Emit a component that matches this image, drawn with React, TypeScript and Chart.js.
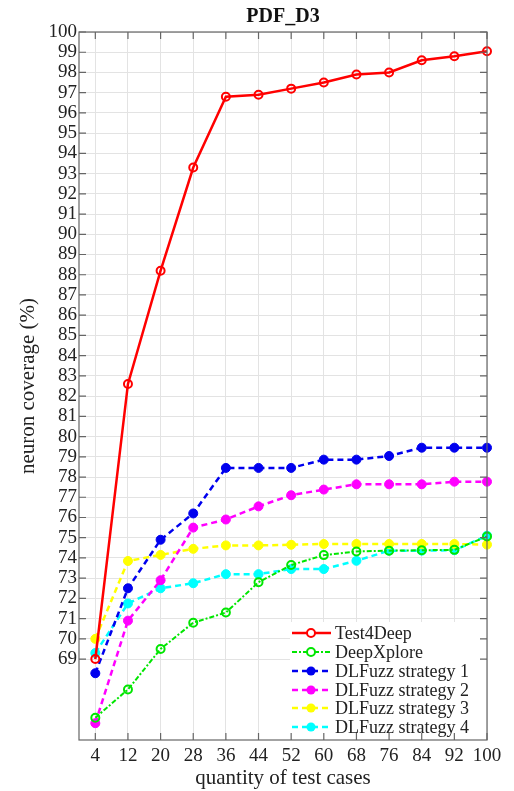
import React, { useEffect, useRef } from "react";
import { Chart, registerables } from "chart.js";

Chart.register(...registerables);

const xValues = [4, 12, 20, 28, 36, 44, 52, 60, 68, 76, 84, 92, 100];
const yTickLabels = Array.from({ length: 32 }, (_, i) => 69 + i);

const test4Deep = [69.0, 82.6, 88.2, 93.3, 96.8, 96.9, 97.2, 97.5, 97.9, 98.0, 98.6, 98.8, 99.05];
const deepXplore = [66.1, 67.5, 69.5, 70.8, 71.3, 72.8, 73.65, 74.14, 74.32, 74.36, 74.38, 74.4, 75.06];
const dlfuzz1 = [68.3, 72.5, 74.9, 76.2, 78.45, 78.45, 78.45, 78.86, 78.86, 79.04, 79.45, 79.45, 79.45];
const dlfuzz2 = [65.83, 70.9, 72.9, 75.5, 75.9, 76.55, 77.1, 77.38, 77.64, 77.64, 77.64, 77.77, 77.77];
const dlfuzz3 = [70.0, 73.85, 74.15, 74.45, 74.62, 74.62, 74.65, 74.69, 74.69, 74.69, 74.69, 74.69, 74.66];
const dlfuzz4 = [69.3, 71.75, 72.5, 72.75, 73.2, 73.2, 73.45, 73.45, 73.86, 74.36, 74.36, 74.38, 75.1];

const seriesNames = ["Test4Deep", "DeepXplore", "DLFuzz strategy 1", "DLFuzz strategy 2", "DLFuzz strategy 3", "DLFuzz strategy 4"];

const FONT = "'Liberation Serif', 'Times New Roman', serif";

const toPts = (arr: number[]) => arr.map((y, i) => ({ x: xValues[i], y }));

export default function App() {
  const ref = useRef<HTMLCanvasElement | null>(null);

  useEffect(() => {
    document.body.style.margin = "0";
    const canvas = ref.current!;
    const mk = (label: string, data: number[], color: string, dash: number[], open: boolean, width: number) => ({
      label,
      data: toPts(data),
      borderColor: color,
      backgroundColor: open ? "#ffffff" : color,
      borderWidth: width,
      borderDash: dash,
      pointRadius: open ? 4 : 4.5,
      pointBorderWidth: open ? 2 : 1,
      pointBorderColor: color,
      pointBackgroundColor: open ? "rgba(255,255,255,0)" : color,
      pointStyle: "circle",
      clip: false as any,
      tension: 0,
    });
    const datasets = [
      mk(seriesNames[0], test4Deep, "#ff0000", [], true, 2.5),
      mk(seriesNames[1], deepXplore, "#00e600", [5, 2, 2, 2], true, 2),
      mk(seriesNames[2], dlfuzz1, "#0000ee", [6, 4], false, 2.5),
      mk(seriesNames[3], dlfuzz2, "#ff00ff", [6, 4], false, 2.5),
      mk(seriesNames[4], dlfuzz3, "#ffff00", [6, 4], false, 2.5),
      mk(seriesNames[5], dlfuzz4, "#00ffff", [6, 4], false, 2.5),
    ];

    const framePlugin = {
      id: "frame",
      afterDatasetsDraw(chart: any) {
        const { ctx, chartArea: a, scales } = chart;
        ctx.save();
        // legend box
        const lx = 290, ly = 622, lw = 196, lh = 117;
        ctx.fillStyle = "#ffffff";
        ctx.fillRect(lx, ly, lw, lh);
        const rows = [633, 652, 671, 690, 708, 727];
        chart.data.datasets.forEach((ds: any, i: number) => {
          const y = rows[i];
          ctx.strokeStyle = ds.borderColor;
          ctx.lineWidth = ds.borderWidth;
          ctx.setLineDash(ds.borderDash);
          ctx.beginPath();
          ctx.moveTo(292, y);
          ctx.lineTo(331, y);
          ctx.stroke();
          ctx.setLineDash([]);
          ctx.beginPath();
          ctx.arc(311, y, ds.pointRadius, 0, Math.PI * 2);
          if (i < 2) {
            ctx.fillStyle = "#ffffff";
            ctx.fill();
            ctx.lineWidth = 2;
            ctx.stroke();
          } else {
            ctx.fillStyle = ds.borderColor;
            ctx.fill();
          }
          ctx.fillStyle = "#222222";
          ctx.font = `18px ${FONT}`;
          ctx.textBaseline = "middle";
          ctx.textAlign = "left";
          ctx.fillText(ds.label, 335, y + 1);
        });
        // frame
        ctx.strokeStyle = "#666666";
        ctx.lineWidth = 1.2;
        ctx.setLineDash([]);
        ctx.strokeRect(a.left, a.top, a.right - a.left, a.bottom - a.top);
        // inner ticks
        ctx.beginPath();
        yTickLabels.forEach((v) => {
          const y = scales.y.getPixelForValue(v);
          ctx.moveTo(a.right, y);
          ctx.lineTo(a.right - 7, y);
          ctx.moveTo(a.left, y);
          ctx.lineTo(a.left + 7, y);
        });
        xValues.forEach((v) => {
          const x = scales.x.getPixelForValue(v);
          ctx.moveTo(x, a.top);
          ctx.lineTo(x, a.top + 7);
          ctx.moveTo(x, a.bottom);
          ctx.lineTo(x, a.bottom - 7);
        });
        ctx.stroke();
        // title
        ctx.fillStyle = "#111111";
        ctx.font = `bold 20px ${FONT}`;
        ctx.textAlign = "center";
        ctx.textBaseline = "middle";
        ctx.fillText("PDF_D3", (a.left + a.right) / 2, 17);
        ctx.restore();
      },
    };

    const chart = new Chart(canvas, {
      type: "line",
      data: { datasets: datasets as any },
      options: {
        responsive: false,
        animation: false,
        layout: { padding: { top: 32, right: 27, left: 0, bottom: 0 } },
        plugins: { legend: { display: false }, title: { display: false }, tooltip: { enabled: false } },
        scales: {
          x: {
            type: "linear",
            min: 0,
            max: 100,
            afterBuildTicks: (s: any) => {
              s.ticks = xValues.map((v) => ({ value: v }));
            },
            afterFit: (s: any) => {
              s.height = 51;
            },
            grid: { color: "#e3e3e3", drawTicks: false },
            border: { display: false },
            ticks: { color: "#222", font: { family: FONT, size: 19 }, padding: 5, maxRotation: 0, autoSkip: false },
            title: { display: true, text: "quantity of test cases", color: "#222", font: { family: FONT, size: 21 }, padding: { top: 0, bottom: 0 } },
          },
          y: {
            type: "linear",
            min: 65,
            max: 100,
            afterBuildTicks: (s: any) => {
              const t = [];
              for (let v = 65; v <= 100; v++) t.push({ value: v });
              s.ticks = t;
            },
            afterFit: (s: any) => {
              s.width = 79;
            },
            grid: {
              color: (c: any) => (c.tick && c.tick.value >= 69 ? "#e3e3e3" : "rgba(0,0,0,0)"),
              drawTicks: false,
            },
            border: { display: false },
            ticks: {
              color: "#222",
              font: { family: FONT, size: 19 },
              padding: 2,
              autoSkip: false,
              callback: (v: any) => (v >= 69 ? String(v) : ""),
            },
            title: { display: true, text: "neuron coverage (%)", color: "#222", font: { family: FONT, size: 21 }, padding: { top: 16, bottom: 0 } },
          },
        },
      },
      plugins: [framePlugin],
    });
    return () => chart.destroy();
  }, []);

  return (
    <div style={{ width: 514, height: 791, background: "#fff" }}>
      <canvas ref={ref} width={514} height={791} style={{ display: "block" }} />
    </div>
  );
}
